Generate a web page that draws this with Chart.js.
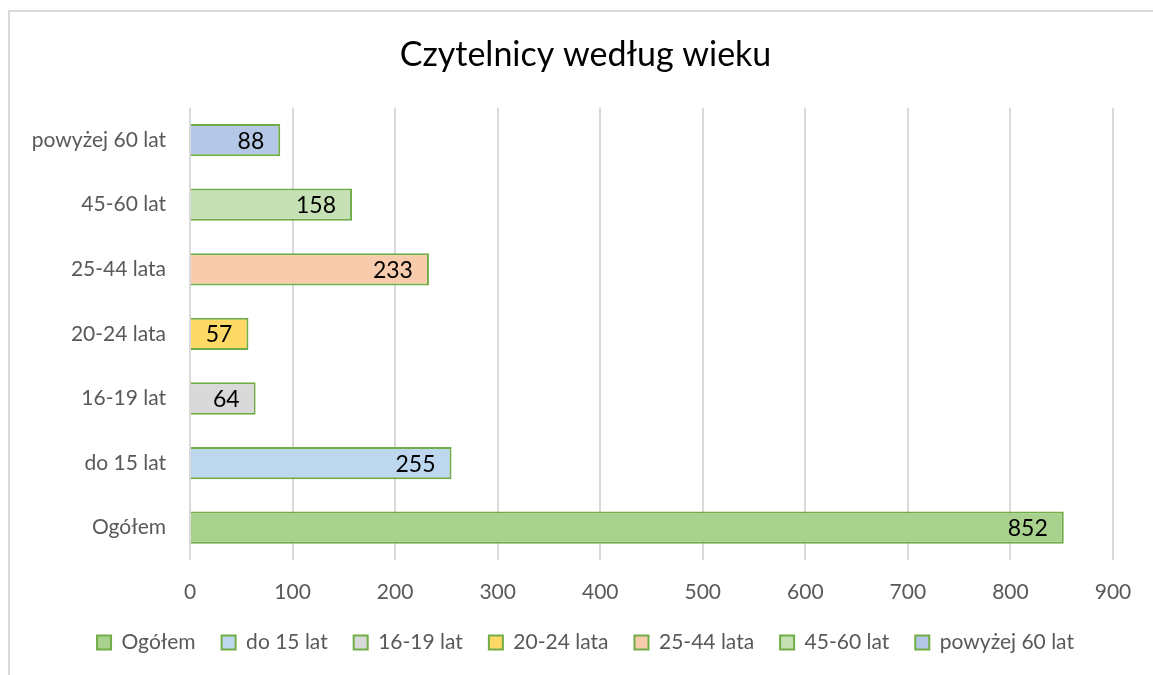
<!DOCTYPE html>
<html>
<head>
<meta charset="utf-8">
<script src="https://cdn.jsdelivr.net/npm/chart.js@4"></script>
<style>
  html, body { margin: 0; padding: 0; background: #fff; }
  #frame { position: absolute; left: 8px; top: 10px; width: 1145px; height: 665px;
           border-left: 2px solid #d9d9d9; border-top: 2px solid #d9d9d9; box-sizing: border-box; }
  #wrap { position: absolute; left: 0; top: 0; width: 1153px; height: 675px; }
</style>
</head>
<body>
<div id="frame"></div>
<div id="wrap"><canvas id="readersChart"></canvas></div>
<script>
const categories = ['Ogółem', 'do 15 lat', '16-19 lat', '20-24 lata', '25-44 lata', '45-60 lat', 'powyżej 60 lat'];
const readerCounts = [852, 255, 64, 57, 233, 158, 88];
const fillColors = ['#A9D18E', '#BDD7EE', '#D9D9D9', '#FFD966', '#F8CBAD', '#C5E0B4', '#B4C7E7'];
const xTicks = [0, 100, 200, 300, 400, 500, 600, 700, 800, 900];

// one series per category, value only in its own row
const datasets = categories.map((name, i) => ({
  label: name,
  data: categories.map((c, j) => (j === i ? readerCounts[i] : null)),
  backgroundColor: fillColors[i],
  borderColor: '#70AD47',
  borderWidth: 2,
  categoryPercentage: 1,
  barPercentage: 0.5
}));

// value labels inside the end of each bar
const insideEndLabels = {
  id: 'insideEndLabels',
  afterDatasetsDraw(chart) {
    const ctx = chart.ctx;
    ctx.save();
    ctx.font = '23px Lato';
    ctx.fillStyle = '#000';
    ctx.textAlign = 'right';
    ctx.textBaseline = 'middle';
    chart.data.datasets.forEach((ds, i) => {
      const meta = chart.getDatasetMeta(i);
      meta.data.forEach((bar, j) => {
        const v = ds.data[j];
        if (v == null) return;
        ctx.fillText(String(v), bar.x - 16, bar.y + 1);
      });
    });
    ctx.restore();
  }
};

Chart.defaults.font.family = 'Lato';
Chart.defaults.color = '#595959';

new Chart(document.getElementById('readersChart').getContext('2d'), {
  type: 'bar',
  data: { labels: categories, datasets: datasets },
  options: {
    indexAxis: 'y',
    responsive: true,
    maintainAspectRatio: false,
    animation: false,
    layout: { padding: { left: 22, right: 4, top: 0, bottom: 12 } },
    plugins: {
      title: {
        display: true,
        text: 'Czytelnicy według wieku',
        color: '#000',
        font: { size: 34, weight: 'normal' },
        padding: { top: 35, bottom: 32 }
      },
      legend: {
        position: 'bottom',
        labels: {
          boxWidth: 14,
          boxHeight: 14,
          padding: 26,
          font: { size: 21 },
          color: '#595959'
        }
      },
      tooltip: { enabled: false }
    },
    scales: {
      x: {
        stacked: true,
        min: 0,
        max: 900,
        afterBuildTicks(scale) { scale.ticks = xTicks.map(v => ({ value: v })); },
        afterFit(scale) { scale.height = 46; },
        ticks: { padding: 20, font: { size: 21 }, color: '#595959' },
        grid: { color: '#D9D9D9', lineWidth: 2, drawTicks: false },
        border: { display: false }
      },
      y: {
        stacked: true,
        reverse: true,
        afterFit(scale) { scale.width = 168; },
        ticks: { padding: 24, font: { size: 21 }, color: '#595959' },
        grid: { display: false, drawTicks: false },
        border: { display: false }
      },
      // empty spacer on the right so the plot ends at 900 where the reference does
      spacer: {
        type: 'category',
        axis: 'y',
        position: 'right',
        labels: categories,
        afterFit(scale) { scale.width = 36; },
        ticks: { display: false },
        grid: { display: false, drawTicks: false },
        border: { display: false }
      }
    }
  },
  plugins: [insideEndLabels]
});
</script>
</body>
</html>
